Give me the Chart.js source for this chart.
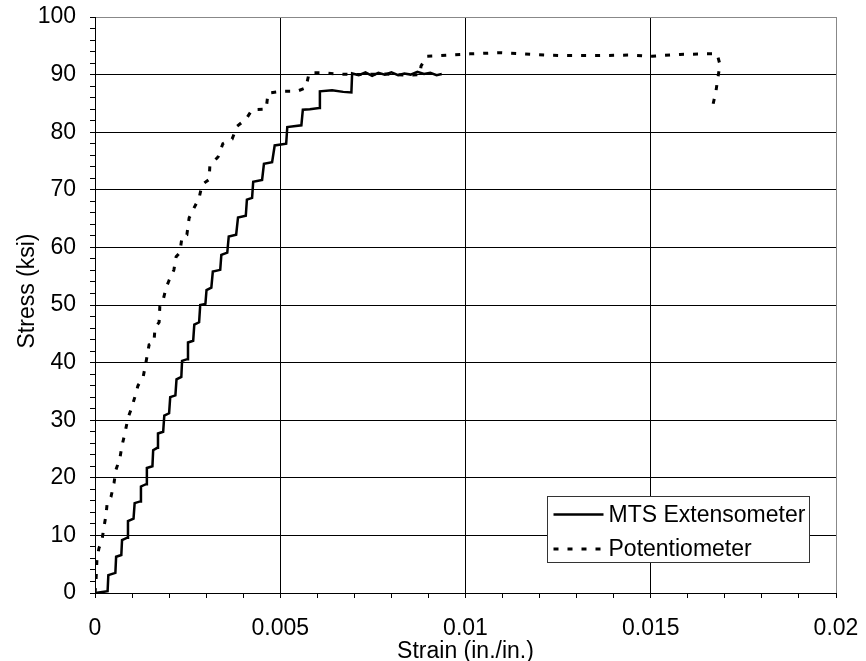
<!DOCTYPE html>
<html>
<head>
<meta charset="utf-8">
<title>Stress vs Strain</title>
<script src="https://cdn.jsdelivr.net/npm/chart.js@4.4.1/dist/chart.umd.min.js"></script>
<style>
    body { margin: 0; background: #fff; }
    #wrap { width: 866px; height: 661px; }
</style>
</head>
<body>
<div id="wrap"><canvas id="chart"></canvas></div>
<script>
const seriesLabels = ['MTS Extensometer', 'Potentiometer'];
const xTitle = 'Strain (in./in.)';
const yTitle = 'Stress (ksi)';

// MTS extensometer (step loading)
const mtsStrain = [0, 0.00034, 0.00036, 0.00055, 0.00057, 0.00071, 0.00073, 0.00087, 0.00089, 0.00104,
    0.00107, 0.00122, 0.00124, 0.00138, 0.00140, 0.00155, 0.00157, 0.00168, 0.00170, 0.00184,
    0.00187, 0.00200, 0.00203, 0.00217, 0.00220, 0.00233, 0.00235, 0.00249, 0.00251, 0.00265,
    0.00268, 0.00281, 0.00284, 0.00298, 0.00301, 0.00314, 0.00318, 0.00338, 0.00341, 0.00357,
    0.00361, 0.00381, 0.00386, 0.00407, 0.00410, 0.00424, 0.00427, 0.00451, 0.00456, 0.00478,
    0.00485, 0.00516, 0.00519, 0.00557, 0.00561, 0.00580, 0.00605, 0.00607, 0.00640, 0.00670,
    0.00692, 0.00694, 0.00712, 0.00730, 0.00748, 0.00765, 0.00782, 0.00800, 0.00818, 0.00835,
    0.00852, 0.00870, 0.00888, 0.00905, 0.00922, 0.00936];
const mtsStress = [0, 0.3, 3.1, 3.5, 6.3, 6.6, 9.2, 9.6, 12.5, 12.9,
    15.6, 15.9, 18.5, 18.9, 21.7, 22.0, 24.8, 25.2, 27.7, 28.0,
    30.8, 31.2, 34.0, 34.3, 37.1, 37.5, 40.3, 40.6, 43.5, 43.8,
    46.6, 47.0, 50.0, 50.2, 52.6, 53.0, 55.8, 56.1, 58.7, 59.1,
    61.9, 62.2, 65.2, 65.5, 68.3, 68.6, 71.4, 71.7, 74.5, 74.8,
    77.7, 78.0, 80.9, 81.2, 83.9, 84.0, 84.2, 87.1, 87.3, 87.0,
    86.9, 90.2, 89.9, 90.4, 89.8, 90.3, 90.0, 90.4, 89.9, 90.2,
    90.0, 90.5, 90.1, 90.3, 89.9, 90.1];

// potentiometer
const potStrain = [0, 0.000027, 0.00004, 0.000054, 0.000108, 0.000189, 0.000243, 0.000297, 0.000324, 0.000432,
    0.000513, 0.000567, 0.000675, 0.000729, 0.00081, 0.00089, 0.00097, 0.00108, 0.00116, 0.00130,
    0.00138, 0.00146, 0.00159, 0.00162, 0.00173, 0.00175, 0.00184, 0.00192, 0.00200, 0.00213,
    0.00219, 0.00229, 0.00235, 0.00248, 0.00254, 0.00267, 0.00281, 0.00289, 0.00308, 0.00310,
    0.00332, 0.00345, 0.00370, 0.00383, 0.00408, 0.00424, 0.00462, 0.00467, 0.00505, 0.00545,
    0.00569, 0.00578, 0.00615, 0.00653, 0.00715, 0.00783, 0.00837, 0.00877, 0.00880, 0.00896,
    0.00931, 0.01012, 0.01093, 0.01180, 0.01255, 0.01363, 0.01444, 0.01503, 0.01579, 0.01646,
    0.01679, 0.01687, 0.01681, 0.01676, 0.01668];
const potStress = [0, 2.0, 4.0, 6.1, 7.8, 9.2, 11.5, 13.5, 15.3, 16.7,
    19.1, 21.4, 23.5, 25.6, 27.8, 30.4, 31.8, 34.1, 36.0, 37.5,
    40.2, 43.1, 43.5, 46.0, 47.0, 49.8, 50.9, 53.0, 54.3, 56.1,
    58.4, 59.1, 61.9, 62.2, 65.1, 66.8, 68.6, 70.9, 71.8, 74.2,
    75.7, 78.0, 78.8, 81.0, 82.3, 83.9, 84.0, 86.8, 87.1, 87.1,
    87.7, 90.3, 90.3, 90.1, 90.0, 90.1, 89.9, 90.0, 91.5, 93.2,
    93.3, 93.6, 93.8, 93.5, 93.3, 93.3, 93.4, 93.2, 93.5, 93.6,
    93.6, 91.7, 89.4, 87.1, 84.8];

// ticks
const xTickLabels = ['0', '0.005', '0.01', '0.015', '0.02'];
const yTickLabels = ['0', '10', '20', '30', '40', '50', '60', '70', '80', '90', '100'];

const FONT = 'Arial, "Liberation Sans", sans-serif';

function toPoints(xs, ys) {
    let points = [];
    for (let i = 0; i < xs.length; i++) {
        points.push({ x: xs[i], y: ys[i] });
    }
    return points;
}

function isMajorX(v) {
    return Math.round(v * 1000) % 5 === 0;
}

function isMajorY(v) {
    return Math.round(v) % 10 === 0;
}

// legend box inside the plot (lower right) and the y title, a bit above centre
const extras = {
    id: 'extras',
    afterDraw(chart) {
        let ctx = chart.ctx;
        let area = chart.chartArea;
        ctx.save();

        ctx.font = '23px ' + FONT;
        ctx.fillStyle = '#000';
        ctx.textAlign = 'center';
        ctx.textBaseline = 'middle';
        ctx.translate(28, (area.top + area.bottom) / 2 - 14);
        ctx.rotate(-Math.PI / 2);
        ctx.fillText(yTitle, 0, 0);
        ctx.setTransform(1, 0, 0, 1, 0, 0);

        let w = 262, h = 66;
        let x0 = Math.round(area.right - 27 - w) + 0.5;
        let y0 = Math.round(area.bottom - 31 - h) + 0.5;
        ctx.fillStyle = '#fff';
        ctx.fillRect(x0, y0, w, h);
        ctx.strokeStyle = '#333';
        ctx.lineWidth = 1;
        ctx.strokeRect(x0, y0, w, h);
        ctx.textAlign = 'left';
        ctx.fillStyle = '#000';
        chart.data.datasets.forEach((ds, i) => {
            let cy = y0 + 18 + i * 34.5;
            ctx.beginPath();
            ctx.strokeStyle = ds.borderColor;
            ctx.lineWidth = ds.borderWidth;
            ctx.setLineDash(ds.borderDash || []);
            ctx.moveTo(x0 + 6, cy);
            ctx.lineTo(x0 + 56, cy);
            ctx.stroke();
            ctx.setLineDash([]);
            ctx.fillText(ds.label, x0 + 61, cy + 1);
        });
        ctx.restore();
    }
};

let chart = new Chart(document.getElementById('chart'), {
    type: 'scatter',
    data: {
        datasets: [{
            label: seriesLabels[0],
            data: toPoints(mtsStrain, mtsStress),
            showLine: true,
            borderColor: '#000',
            borderWidth: 2.5,
            pointRadius: 0,
            tension: 0
        }, {
            label: seriesLabels[1],
            data: toPoints(potStrain, potStress),
            showLine: true,
            borderColor: '#000',
            borderWidth: 3,
            borderDash: [5, 9],
            pointRadius: 0,
            tension: 0
        }]
    },
    options: {
        responsive: true,
        maintainAspectRatio: false,
        animation: false,
        devicePixelRatio: 1,
        layout: { padding: { top: 17, right: 30, left: 0, bottom: 0 } },
        plugins: {
            legend: { display: false },
            tooltip: { enabled: false }
        },
        scales: {
            x: {
                type: 'linear',
                min: 0,
                max: 0.02,
                afterFit: (scale) => {
                    scale.height = 68;
                    // let layout.padding alone decide the plot edges
                    scale.paddingLeft = 0;
                    scale.paddingRight = 0;
                },
                ticks: {
                    stepSize: 0.001,
                    autoSkip: false,
                    maxRotation: 0,
                    padding: 19,
                    color: '#000',
                    font: { family: FONT, size: 23, lineHeight: 1 },
                    callback: (v) => isMajorX(v) ? xTickLabels[Math.round(v * 200)] : ''
                },
                grid: {
                    color: (c) => {
                        let v = c.tick ? c.tick.value : 0;
                        if (!isMajorX(v)) return 'rgba(0,0,0,0)';
                        return Math.round(v * 1000) === 20 ? '#888' : '#000';
                    },
                    tickColor: '#000',
                    tickLength: 5,
                    lineWidth: 1
                },
                border: { color: '#000', width: 1 },
                title: {
                    display: true,
                    text: xTitle,
                    color: '#000',
                    font: { family: FONT, size: 23, lineHeight: 1 },
                    padding: { top: 0, bottom: -2 }
                }
            },
            y: {
                min: 0,
                max: 100,
                afterFit: (scale) => {
                    scale.width = 95;
                    scale.paddingTop = 0;
                    scale.paddingBottom = 0;
                },
                ticks: {
                    stepSize: 2,
                    autoSkip: false,
                    padding: 14,
                    color: '#000',
                    font: { family: FONT, size: 23, lineHeight: 1 },
                    callback: (v) => isMajorY(v) ? yTickLabels[Math.round(v / 10)] : ''
                },
                grid: {
                    color: (c) => {
                        let v = c.tick ? c.tick.value : 0;
                        if (!isMajorY(v)) return 'rgba(0,0,0,0)';
                        return Math.round(v) === 100 ? '#888' : '#000';
                    },
                    tickColor: '#000',
                    tickLength: 5,
                    lineWidth: 1
                },
                border: { color: '#000', width: 1 },
                title: { display: false }
            }
        }
    },
    plugins: [extras]
});
</script>
</body>
</html>
